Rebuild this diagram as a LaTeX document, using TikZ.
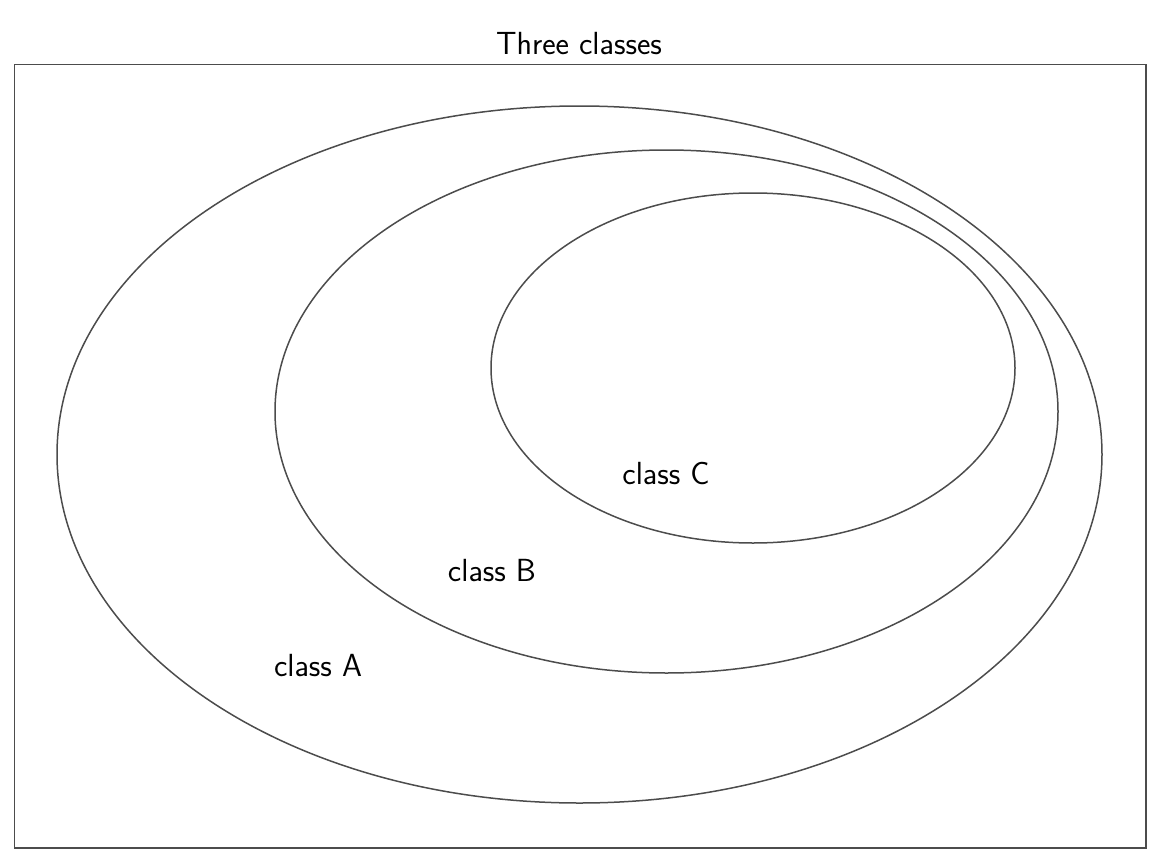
\documentclass[tikz,border=0pt]{standalone}
\begin{document}
\begin{tikzpicture}[x=1pt,y=-1pt,
  shapeline/.style={draw=black!70, line width=1.5pt},
  lbl/.style={font=\sffamily\fontsize{32}{38}\selectfont, inner sep=0pt}]
\useasboundingbox (0,0) rectangle (1160,862);
\node[shapeline, rectangle, minimum width=1131.5pt, minimum height=783.5pt, inner sep=0pt, anchor=north west] (frame) at (13.5,63.5) {};
\node[lbl] (title) at (579,44) {Three classes};
\draw[shapeline] (579.5,454.5) ellipse [x radius=522.5, y radius=348.5];
\draw[shapeline] (666.5,411.5) ellipse [x radius=391.5, y radius=261.5];
\draw[shapeline] (753,368) ellipse [x radius=262, y radius=175];
\node[lbl] (a) at (318,666) {class A};
\node[lbl] (b) at (492,571) {class B};
\node[lbl] (c) at (666,474) {class C};
\end{tikzpicture}
\end{document}
